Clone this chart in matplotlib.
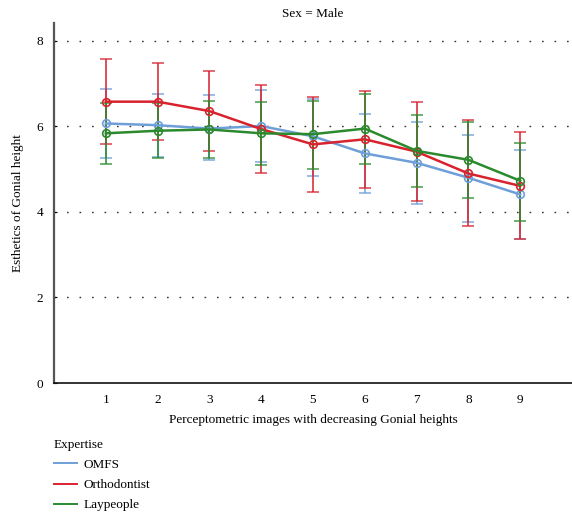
import matplotlib
matplotlib.use("Agg")
import matplotlib.pyplot as plt
import numpy as np
from matplotlib.lines import Line2D

plt.rcParams["font.family"] = ["Liberation Serif", "DejaVu Serif"]

# Data
images = [1, 2, 3, 4, 5, 6, 7, 8, 9]
groups = ["OMFS", "Orthodontist", "Laypeople"]

omfs_mean = [6.07, 6.03, 5.95, 6.01, 5.77, 5.37, 5.15, 4.80, 4.41]
omfs_upper = [6.88, 6.77, 6.74, 6.85, 6.64, 6.30, 6.10, 5.80, 5.44]
omfs_lower = [5.27, 5.29, 5.22, 5.17, 4.85, 4.44, 4.19, 3.77, 3.36]

ortho_mean = [6.58, 6.58, 6.36, 5.94, 5.58, 5.70, 5.41, 4.90, 4.61]
ortho_upper = [7.57, 7.48, 7.30, 6.97, 6.68, 6.84, 6.57, 6.14, 5.87]
ortho_lower = [5.60, 5.68, 5.43, 4.90, 4.46, 4.57, 4.25, 3.67, 3.36]

lay_mean = [5.84, 5.90, 5.93, 5.84, 5.82, 5.95, 5.43, 5.22, 4.73]
lay_upper = [6.54, 6.55, 6.60, 6.58, 6.60, 6.77, 6.27, 6.11, 5.62]
lay_lower = [5.12, 5.27, 5.27, 5.11, 5.00, 5.13, 4.59, 4.33, 3.80]

colors = {"OMFS": "#6e9fd9", "Orthodontist": "#d8232e", "Laypeople": "#2b8a2e"}

series = [
    ("OMFS", omfs_mean, omfs_upper, omfs_lower),
    ("Orthodontist", ortho_mean, ortho_upper, ortho_lower),
    ("Laypeople", lay_mean, lay_upper, lay_lower),
]

fig = plt.figure(figsize=(5.72, 5.15), dpi=100)
ax = fig.add_axes([54 / 572, 132 / 515, 518 / 572, 360 / 515])

for name, mean, upper, lower in series:
    mean = np.array(mean)
    yerr = [mean - np.array(lower), np.array(upper) - mean]
    c = colors[name]
    ax.errorbar(images, mean, yerr=yerr, color=c, lw=1.8,
                marker="o", markersize=5.5, markerfacecolor="none",
                markeredgewidth=1.2, ecolor=matplotlib.colors.to_rgba(c, 0.8),
                elinewidth=1.4, capsize=4.5, capthick=1.4, zorder=3)

ax.set_xlim(0, 10)
ax.set_ylim(0, 8.42)
ax.set_xticks(images)
ax.set_yticks([0, 2, 4, 6, 8])
ax.grid(axis="y", linestyle=(0, (1.2, 7.8)), color="#333333", lw=1.0)
ax.set_axisbelow(True)
# hide the 0 gridline (it sits on the bottom spine)
ax.yaxis.get_gridlines()[0].set_visible(False)

ax.spines["top"].set_visible(False)
ax.spines["right"].set_visible(False)
ax.spines["left"].set_color("#555555")
ax.spines["left"].set_linewidth(1.6)
ax.spines["bottom"].set_color("#111111")
ax.spines["bottom"].set_linewidth(1.2)
ax.tick_params(axis="x", length=0, labelsize=9.5, pad=8)
ax.tick_params(axis="y", direction="in", length=2, labelsize=9.5, pad=8)

ax.set_title("Sex = Male", fontsize=9.5, pad=4)
ax.set_xlabel("Perceptometric images with decreasing Gonial heights", fontsize=9.5, labelpad=6)
ax.set_ylabel("Esthetics of Gonial height", fontsize=9.5, labelpad=9)

handles = [Line2D([], [], color=colors[g], lw=1.4) for g in groups]
leg = fig.legend(handles, groups, title="Expertise", loc="upper left",
                 bbox_to_anchor=(42 / 572, 1 - 427 / 515), frameon=False,
                 fontsize=9.5, title_fontsize=9.5, alignment="left",
                 handlelength=1.75, handletextpad=0.5, labelspacing=0.6)

fig.savefig("out.png", dpi=100)
